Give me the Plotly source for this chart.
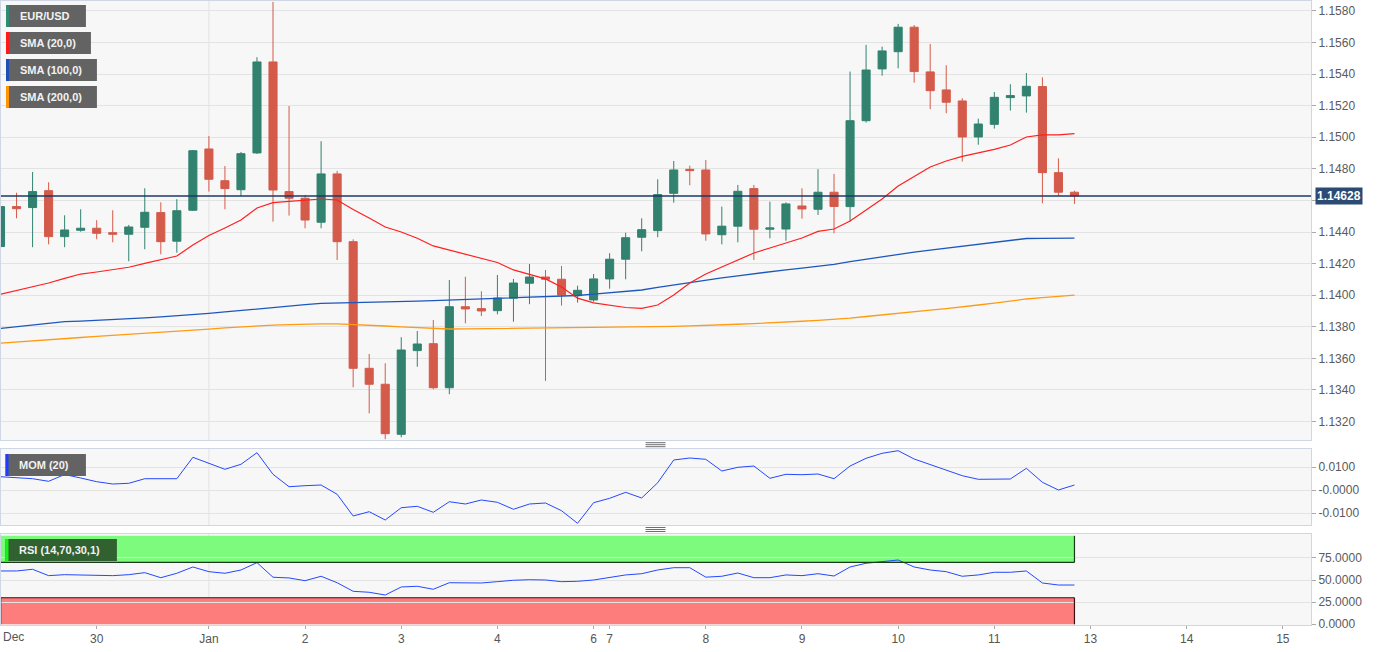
import plotly.graph_objects as go

# ---------------- data (4-hour EUR/USD candles) ----------------
open_ = [1.14308, 1.14561, 1.14555, 1.14662, 1.14371, 1.14411, 1.14424, 1.14396, 1.14386, 1.14430, 1.14523, 1.14342,
         1.14538, 1.14926, 1.14725, 1.14668, 1.14901, 1.15477, 1.14656, 1.14614, 1.14462, 1.14768, 1.14339, 1.13537,
         1.13436, 1.13119, 1.13649, 1.13693, 1.13414, 1.13927, 1.13915, 1.13902, 1.13981, 1.14076, 1.14115, 1.14101,
         1.13997, 1.13970, 1.14103, 1.14228, 1.14367, 1.14409, 1.14645, 1.14797, 1.14793, 1.14383, 1.14437, 1.14675,
         1.14418, 1.14419, 1.14565, 1.14544, 1.14652, 1.14561, 1.15105, 1.15433, 1.15542, 1.15697, 1.15414, 1.15300,
         1.15230, 1.15002, 1.15082, 1.15251, 1.15262, 1.15321, 1.14776, 1.14652]
high = [1.14686, 1.14649, 1.14780, 1.14715, 1.14506, 1.14544, 1.14475, 1.14538, 1.14445, 1.14677, 1.14588, 1.14608,
        1.14920, 1.15008, 1.14818, 1.14907, 1.15507, 1.15857, 1.15198, 1.14635, 1.14975, 1.14787, 1.14354, 1.13628,
        1.13569, 1.13734, 1.13773, 1.13843, 1.14096, 1.14117, 1.14025, 1.14128, 1.14103, 1.14198, 1.14160, 1.14185,
        1.14060, 1.14134, 1.14266, 1.14396, 1.14487, 1.14734, 1.14850, 1.14820, 1.14856, 1.14561, 1.14698, 1.14698,
        1.14592, 1.14588, 1.14677, 1.14798, 1.14768, 1.15416, 1.15585, 1.15574, 1.15718, 1.15711, 1.15591, 1.15456,
        1.15247, 1.15118, 1.15287, 1.15336, 1.15407, 1.15380, 1.14867, 1.14662]
low = [1.14295, 1.14487, 1.14304, 1.14322, 1.14304, 1.14402, 1.14354, 1.14335, 1.14215, 1.14291, 1.14259, 1.14269,
       1.14533, 1.14656, 1.14544, 1.14628, 1.14894, 1.14466, 1.14504, 1.14424, 1.14424, 1.14223, 1.13417, 1.13252,
       1.13088, 1.13100, 1.13547, 1.13404, 1.13373, 1.13822, 1.13868, 1.13879, 1.13832, 1.13943, 1.13457, 1.13934,
       1.13953, 1.13959, 1.14041, 1.14101, 1.14278, 1.14367, 1.14586, 1.14696, 1.14345, 1.14322, 1.14335, 1.14223,
       1.14360, 1.14345, 1.14485, 1.14508, 1.14392, 1.14466, 1.15093, 1.15390, 1.15437, 1.15346, 1.15178, 1.15152,
       1.14846, 1.14953, 1.15055, 1.15169, 1.15156, 1.14582, 1.14628, 1.14578]
close = [1.14561, 1.14548, 1.14656, 1.14371, 1.14413, 1.14424, 1.14392, 1.14386, 1.14432, 1.14525, 1.14339, 1.14535,
         1.14915, 1.14734, 1.14675, 1.14896, 1.15477, 1.14666, 1.14614, 1.14476, 1.14768, 1.14339, 1.13537, 1.13436,
         1.13123, 1.13653, 1.13691, 1.13414, 1.13927, 1.13913, 1.13900, 1.13982, 1.14077, 1.14115, 1.14101, 1.14001,
         1.14031, 1.14103, 1.14228, 1.14364, 1.14415, 1.14637, 1.14793, 1.14789, 1.14388, 1.14437, 1.14658, 1.14418,
         1.14426, 1.14578, 1.14546, 1.14652, 1.14562, 1.15105, 1.15426, 1.15547, 1.15697, 1.15416, 1.15295, 1.15222,
         1.15002, 1.15084, 1.15253, 1.15264, 1.15323, 1.14776, 1.14652, 1.14628]

sma20 = [1.14006, 1.14030, 1.14052, 1.14077, 1.14106, 1.14134, 1.14147, 1.14163, 1.14177, 1.14201, 1.14226, 1.14248,
         1.14318, 1.14378, 1.14426, 1.14476, 1.14552, 1.14586, 1.14594, 1.14603, 1.14609, 1.14603, 1.14543, 1.14489,
         1.14432, 1.14400, 1.14361, 1.14312, 1.14286, 1.14258, 1.14233, 1.14207, 1.14160, 1.14131, 1.14103, 1.14052,
         1.13981, 1.13951, 1.13935, 1.13922, 1.13917, 1.13938, 1.14001, 1.14077, 1.14134, 1.14179, 1.14226, 1.14267,
         1.14299, 1.14331, 1.14362, 1.14404, 1.14419, 1.14470, 1.14540, 1.14609, 1.14692, 1.14752, 1.14812, 1.14850,
         1.14879, 1.14901, 1.14923, 1.14951, 1.15002, 1.15015, 1.15015, 1.15023]
sma100 = [1.13790, 1.13800, 1.13811, 1.13821, 1.13832, 1.13836, 1.13840, 1.13845, 1.13849, 1.13856, 1.13863, 1.13869,
          1.13876, 1.13885, 1.13894, 1.13904, 1.13913, 1.13922, 1.13931, 1.13940, 1.13948, 1.13950, 1.13952, 1.13953,
          1.13954, 1.13958, 1.13962, 1.13966, 1.13970, 1.13973, 1.13976, 1.13979, 1.13982, 1.13986, 1.13990, 1.13994,
          1.13998, 1.14007, 1.14016, 1.14024, 1.14033, 1.14049, 1.14065, 1.14080, 1.14096, 1.14110, 1.14123, 1.14137,
          1.14150, 1.14161, 1.14172, 1.14184, 1.14195, 1.14212, 1.14228, 1.14245, 1.14261, 1.14273, 1.14286, 1.14298,
          1.14310, 1.14322, 1.14335, 1.14347, 1.14359, 1.14360, 1.14361, 1.14362]
sma200 = [1.13696, 1.13704, 1.13711, 1.13719, 1.13726, 1.13732, 1.13739, 1.13745, 1.13751, 1.13758, 1.13764, 1.13771,
          1.13777, 1.13785, 1.13793, 1.13800, 1.13808, 1.13811, 1.13814, 1.13817, 1.13819, 1.13818, 1.13815, 1.13810,
          1.13805, 1.13800, 1.13795, 1.13790, 1.13786, 1.13787, 1.13788, 1.13788, 1.13789, 1.13790, 1.13792, 1.13793,
          1.13794, 1.13795, 1.13797, 1.13798, 1.13799, 1.13801, 1.13803, 1.13806, 1.13808, 1.13812, 1.13816, 1.13820,
          1.13824, 1.13830, 1.13835, 1.13841, 1.13846, 1.13855, 1.13865, 1.13874, 1.13884, 1.13894, 1.13905, 1.13915,
          1.13925, 1.13938, 1.13950, 1.13963, 1.13976, 1.13984, 1.13992, 1.14000]

mom = [0.00578, 0.00543, 0.00491, 0.00378, 0.00674, 0.00522, 0.00361, 0.00261, 0.00291, 0.00491, 0.00500, 0.00491,
       0.01422, 0.01152, 0.00900, 0.01117, 0.01622, 0.00683, 0.00143, 0.00187, 0.00217, -0.00187, -0.01130, -0.00943,
       -0.01304, -0.00770, -0.00709, -0.00970, -0.00509, -0.00609, -0.00435, -0.00535, -0.00839, -0.00609, -0.00565,
       -0.00900, -0.01448, -0.00552, -0.00361, -0.00100, -0.00348, 0.00317, 0.01304, 0.01391, 0.01335, 0.00826,
       0.00987, 0.01043, 0.00509, 0.00683, 0.00665, 0.00696, 0.00491, 0.01043, 0.01378, 0.01596, 0.01709, 0.01348,
       0.01100, 0.00883, 0.00622, 0.00465, 0.00465, 0.00478, 0.00943, 0.00335, 0.00000, 0.00217]
rsi = [60.3, 60.3, 62.2, 55.0, 56.1, 55.5, 55.0, 55.0, 56.1, 58.4, 52.7, 57.7, 64.8, 59.5, 57.7, 61.4, 69.7, 53.2,
       52.4, 49.3, 54.3, 47.0, 37.3, 36.2, 33.1, 42.2, 43.0, 39.6, 47.0, 47.0, 46.7, 48.2, 49.8, 50.4, 50.1, 48.2,
       48.6, 50.1, 53.2, 55.8, 57.2, 61.4, 64.0, 64.0, 53.3, 54.3, 58.0, 52.7, 52.7, 55.8, 55.0, 57.2, 54.6, 64.8,
       69.0, 70.5, 72.7, 64.8, 61.4, 59.5, 54.3, 55.8, 58.8, 58.8, 60.3, 46.7, 44.4, 44.4]

last_price = 1.14628
rsi_upper, rsi_lower = 70, 30

day_labels = ["Dec", "30", "Jan", "2", "3", "4", "6", "7", "8", "9", "10", "11", "13", "14", "15"]
day_start = [0, 6, 13, 19, 25, 31, 37, 38, 44, 50, 56, 62, 68, 74, 80]

price_ticks = [1.132, 1.134, 1.136, 1.138, 1.140, 1.142, 1.144, 1.146, 1.148, 1.150, 1.152, 1.154, 1.156, 1.158]
mom_ticks = [0.01, 0.0, -0.01]
mom_tick_text = ["0.0100", "-0.0000", "-0.0100"]
rsi_ticks = [0, 25, 50, 75]
rsi_tick_text = ["0.0000", "25.0000", "50.0000", "75.0000"]

# ---------------- styling ----------------
W, H = 1381, 652
H_EFF = 646  # rendered vertical extent observed for the figure
GREEN = "#31826f"
RED = "#d45a4a"
FONT = "Liberation Sans, Arial, sans-serif"
GRID = "#e3e3e3"
BORDER = "#cfd7e6"


def px(x):
    return x / W


def py(y):
    return 1 - y / H_EFF


idx = list(range(len(close)))
n = len(close)
XR = [0.03, 81.76]
XDOM = [0, px(1311)]

fig = go.Figure()

fig.add_trace(go.Candlestick(
    x=idx, open=open_, high=high, low=low, close=close,
    increasing=dict(line=dict(color=GREEN, width=1), fillcolor=GREEN),
    decreasing=dict(line=dict(color=RED, width=1), fillcolor=RED),
    whiskerwidth=0, xaxis="x", yaxis="y", showlegend=False, hoverinfo="skip"))
fig.add_trace(go.Scatter(x=idx, y=sma200, mode="lines", line=dict(color="#ff9a12", width=1.3),
                         xaxis="x", yaxis="y", showlegend=False, hoverinfo="skip"))
fig.add_trace(go.Scatter(x=idx, y=sma100, mode="lines", line=dict(color="#1d57bd", width=1.3),
                         xaxis="x", yaxis="y", showlegend=False, hoverinfo="skip"))
fig.add_trace(go.Scatter(x=idx, y=sma20, mode="lines", line=dict(color="#ff1f1f", width=1.2),
                         xaxis="x", yaxis="y", showlegend=False, hoverinfo="skip"))

fig.add_trace(go.Scatter(x=idx, y=mom, mode="lines", line=dict(color="#2448ff", width=1),
                         xaxis="x2", yaxis="y2", showlegend=False, hoverinfo="skip"))
fig.add_trace(go.Scatter(x=idx, y=rsi, mode="lines", line=dict(color="#2448ff", width=1),
                         xaxis="x3", yaxis="y3", showlegend=False, hoverinfo="skip"))

shapes = []
# RSI bands
shapes.append(dict(type="rect", xref="x3", yref="y3", x0=0, x1=n - 1, y0=rsi_upper, y1=100,
                   fillcolor="#7dfb7d", line=dict(width=0), layer="below"))
shapes.append(dict(type="rect", xref="x3", yref="y3", x0=0, x1=n - 1, y0=0, y1=rsi_lower,
                   fillcolor="#fd7d7d", line=dict(width=0), layer="below"))
shapes.append(dict(type="line", xref="x3", yref="y3", x0=0, x1=n - 1, y0=rsi_upper, y1=rsi_upper,
                   line=dict(color="#1b3a1b", width=1.2)))
shapes.append(dict(type="line", xref="x3", yref="y3", x0=n - 1, x1=n - 1, y0=rsi_upper, y1=100,
                   line=dict(color="#1b3a1b", width=1.2)))
shapes.append(dict(type="line", xref="x3", yref="y3", x0=0, x1=n - 1, y0=rsi_lower, y1=rsi_lower,
                   line=dict(color="#3a1010", width=1.2)))
shapes.append(dict(type="line", xref="x3", yref="y3", x0=n - 1, x1=n - 1, y0=0, y1=rsi_lower,
                   line=dict(color="#3a1010", width=1.2)))
shapes.append(dict(type="line", xref="x3", yref="y3", x0=0, x1=0, y0=0, y1=rsi_lower,
                   line=dict(color="#3a1010", width=1.5)))

# vertical month grid line (Jan)
jan_i = day_start[day_labels.index("Jan")]
for xr, yr in (("x", "y domain"), ("x2", "y2 domain"), ("x3", "y3 domain")):
    shapes.append(dict(type="line", xref=xr, yref=yr, x0=jan_i, x1=jan_i, y0=0, y1=1,
                       line=dict(color=GRID, width=1), layer="below"))

# last price line
shapes.append(dict(type="line", xref="paper", yref="y", x0=0, x1=XDOM[1], y0=last_price, y1=last_price,
                   line=dict(color="#1c3a66", width=1.4)))

# panel resize handles
for ys in ((442.7, 444.7, 446.7), (527.5, 529.5, 531.5)):
    for yy in ys:
        shapes.append(dict(type="line", xref="paper", yref="paper", x0=px(645), x1=px(665),
                           y0=py(yy), y1=py(yy), line=dict(color="#6e6e6e", width=1)))

annotations = []
# legend tags
tags = [
    ("EUR/USD", 5, 85, 5, 27, "#2e8b74", "#5e5e5e"),
    ("SMA (20,0)", 5, 90, 32, 54, "#ff1a1a", "#5e5e5e"),
    ("SMA (100,0)", 5, 96, 59, 81, "#1d4fb5", "#5e5e5e"),
    ("SMA (200,0)", 5, 96, 86, 108, "#ff9500", "#5e5e5e"),
    ("MOM (20)", 4.5, 85, 454, 476, "#1f3cff", "#5e5e5e"),
    ("RSI (14,70,30,1)", 4.5, 116, 539, 561, "#19f019", "#2e5c2e"),
]
for text, x0, x1, y0, y1, strip, bg in tags:
    shapes.append(dict(type="rect", xref="paper", yref="paper", x0=px(x0), x1=px(x1), y0=py(y1), y1=py(y0),
                       fillcolor=bg, line=dict(width=0), opacity=0.97))
    shapes.append(dict(type="rect", xref="paper", yref="paper", x0=px(x0), x1=px(x0 + 3), y0=py(y1), y1=py(y0),
                       fillcolor=strip, line=dict(width=0)))
    annotations.append(dict(text="<b>%s</b>" % text, xref="paper", yref="paper", x=px(x0 + 12),
                            y=py((y0 + y1) / 2), xanchor="left", yanchor="middle", showarrow=False,
                            font=dict(family=FONT, size=11, color="#f2f2f2")))

# last price label
annotations.append(dict(text="<b>%.5f</b>" % last_price, xref="paper", yref="y", x=px(1315), y=last_price,
                        xanchor="left", yanchor="middle", showarrow=False, bgcolor="#2b4b75",
                        borderpad=1, font=dict(family=FONT, size=12, color="white")))
# first day label ("Dec") kept inside the page
annotations.append(dict(text=day_labels[0], xref="paper", yref="paper", x=0, y=py(637),
                        xanchor="left", yanchor="middle", showarrow=False,
                        font=dict(family=FONT, size=12, color="#555555")))

# the tick label under the last-price tag is hidden by it in the original
price_tick_text = ["" if abs(v - last_price) < 0.001 else "%.4f" % v for v in price_ticks]

common_x = dict(range=XR, domain=XDOM, showgrid=False, zeroline=False, showline=True, mirror=True,
                linecolor=BORDER, linewidth=1, fixedrange=True)
common_y = dict(side="right", showgrid=True, gridcolor=GRID, gridwidth=1, zeroline=False, showline=True,
                mirror=True, linecolor=BORDER, linewidth=1, ticks="outside", ticklen=4, tickcolor="#aaaaaa",
                tickfont=dict(family=FONT, size=12, color="#5a5a5a"))

fig.update_layout(
    width=W, height=H, margin=dict(l=0, r=0, t=0, b=0),
    paper_bgcolor="white", plot_bgcolor="#f7f7f7",
    boxgap=0.28,
    showlegend=False,
    xaxis=dict(**common_x, anchor="y", showticklabels=False, ticks="", rangeslider=dict(visible=False)),
    xaxis2=dict(**common_x, anchor="y2", showticklabels=False, ticks=""),
    xaxis3=dict(**common_x, anchor="y3", tickmode="array", tickvals=day_start[1:], ticktext=day_labels[1:],
                ticks="outside", ticklen=3, tickcolor="#aaaaaa",
                tickfont=dict(family=FONT, size=12, color="#555555")),
    yaxis=dict(**common_y, domain=[py(440), py(1)], range=[1.13083, 1.15863], tickmode="array",
               tickvals=price_ticks, ticktext=price_tick_text, anchor="x"),
    yaxis2=dict(**common_y, domain=[py(525), py(449)], range=[-0.01522, 0.01783], tickmode="array",
                tickvals=mom_ticks, ticktext=mom_tick_text, anchor="x2"),
    yaxis3=dict(**common_y, domain=[py(625), py(534)], range=[-0.8, 102.1], tickmode="array",
                tickvals=rsi_ticks, ticktext=rsi_tick_text, anchor="x3"),
    shapes=shapes,
    annotations=annotations,
)

fig.write_html("out.html")
